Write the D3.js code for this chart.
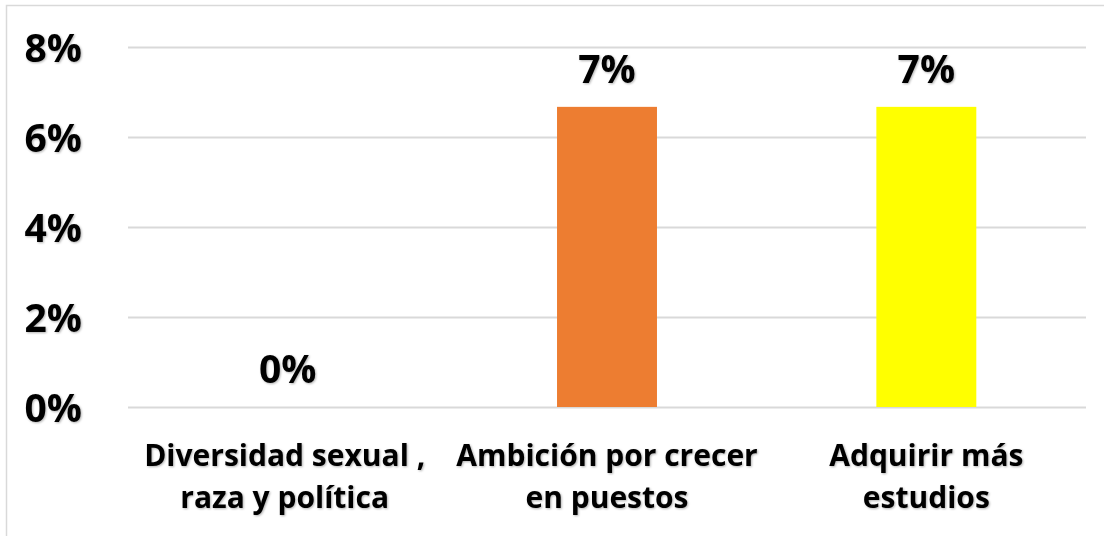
<!DOCTYPE html>
<html><head><meta charset="utf-8">
<script src="https://cdn.jsdelivr.net/npm/d3@7"></script>
<style>body{margin:0;background:#fff}svg{display:block}</style>
</head><body>
<script>
const categories = [["Diversidad sexual ,", "raza y política"], ["Ambición por crecer", "en puestos"], ["Adquirir más", "estudios"]];
const values = [0, 0.0667, 0.0667];
const valueLabels = ["0%", "7%", "7%"];
const colors = ["#4472C4", "#ED7D31", "#FFFF00"];
const yTicks = [0, 0.02, 0.04, 0.06, 0.08];

const W = 1104, H = 536;
const FONT = "'Open Sans', sans-serif";
const svg = d3.select("body").append("svg").attr("width", W).attr("height", H);
const defs = svg.append("defs");
const f = defs.append("filter").attr("id","sh").attr("x","-10%").attr("y","-10%").attr("width","130%").attr("height","130%");
f.append("feDropShadow").attr("dx",1).attr("dy",1).attr("stdDeviation",0.8).attr("flood-color","#000").attr("flood-opacity",0.3);

svg.append("rect").attr("x",6.5).attr("y",5.5).attr("width",W).attr("height",H+10)
  .attr("fill","none").attr("stroke","#d9d9d9").attr("stroke-width",1.5);

const m = {left:128, right:1086, top:47, bottom:407};
const x = d3.scaleBand().domain(d3.range(categories.length)).range([m.left, m.right]).paddingInner(0.687).paddingOuter(0.3435);
const y = d3.scaleLinear().domain([0, 0.08]).range([m.bottom, m.top]);

const yAxis = d3.axisLeft(y).tickValues(yTicks).tickFormat(d3.format(".0%")).tickSize(-(m.right-m.left)).tickPadding(46);
const ga = svg.append("g").attr("transform",`translate(${m.left},0)`).call(yAxis);
ga.select(".domain").remove();
ga.selectAll(".tick line").attr("stroke","#d9d9d9").attr("stroke-width",2);
ga.selectAll(".tick text").attr("font-family",FONT).attr("font-weight","bold").attr("font-size",39).attr("fill","#000").attr("filter","url(#sh)").attr("dy","0.36em");

svg.append("g").selectAll("rect").data(values).join("rect")
  .attr("x",(d,i)=>x(i)).attr("width",x.bandwidth())
  .attr("y",d=>y(d)).attr("height",d=>y(0)-y(d))
  .attr("fill",(d,i)=>colors[i]);

svg.append("g").selectAll("text").data(values).join("text")
  .attr("x",(d,i)=>x(i)+x.bandwidth()/2).attr("y",d=>y(d)-24)
  .attr("text-anchor","middle").attr("font-family",FONT).attr("font-weight","bold").attr("font-size",39)
  .attr("fill","#000").attr("filter","url(#sh)").text((d,i)=>valueLabels[i]);

const cl = svg.append("g").selectAll("text").data(categories).join("text")
  .attr("text-anchor","middle").attr("font-family",FONT).attr("font-weight","bold").attr("font-size",30)
  .attr("fill","#000").attr("filter","url(#sh)");
cl.each(function(d,i){
  const t = d3.select(this);
  d.forEach((line,j)=>{
    t.append("tspan").attr("x", x(i)+x.bandwidth()/2 - (i===0 ? 3 : 0)).attr("y", 466 + j*42).text(line);
  });
});
</script>
</body></html>
